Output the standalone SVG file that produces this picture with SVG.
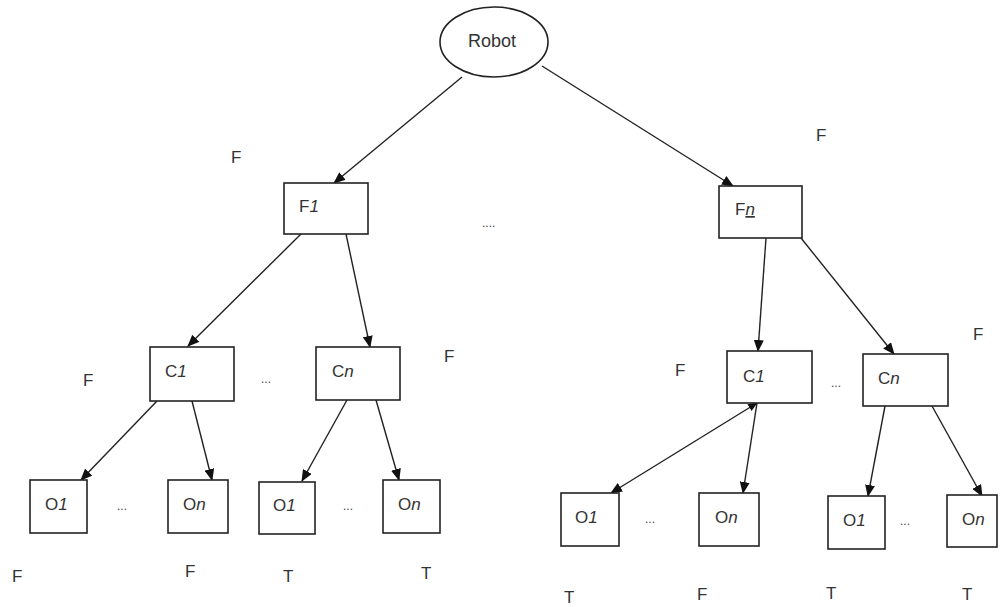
<svg xmlns="http://www.w3.org/2000/svg" width="1002" height="607" viewBox="0 0 1002 607">
  <style>
    .box { fill: #ffffff; stroke: #222222; stroke-width: 1.6; }
    .lbl { font-family: "Liberation Sans", Arial, sans-serif; font-size: 17px; fill: #333333; }
    .dots { font-family: "Liberation Sans", Arial, sans-serif; font-size: 12px; fill: #444444; }
    .it { font-style: italic; }
    .edge { stroke: #222222; stroke-width: 1.4; fill: none; marker-end: url(#head); }
  </style>
  <defs>
    <marker id="head" viewBox="0 0 12 10" refX="11" refY="5" markerWidth="12" markerHeight="10" markerUnits="userSpaceOnUse" orient="auto">
      <path d="M0,0 L12,5 L0,10 z" fill="#111111"/>
    </marker>
    <marker id="tail" viewBox="0 0 12 10" refX="11" refY="5" markerWidth="10" markerHeight="8" markerUnits="userSpaceOnUse" orient="auto-start-reverse">
      <path d="M0,0 L12,5 L0,10 z" fill="#111111"/>
    </marker>
  </defs>
  <rect x="0" y="0" width="1002" height="607" fill="#ffffff"/>

  <!-- connectors -->
  <g id="edges">
    <line class="edge" x1="462" y1="77" x2="334" y2="183"/>
    <line class="edge" x1="542" y1="66" x2="733" y2="186"/>
    <line class="edge" x1="301" y1="234" x2="188" y2="346"/>
    <line class="edge" x1="346" y1="234" x2="370" y2="347"/>
    <line class="edge" x1="766" y1="238" x2="758" y2="351"/>
    <line class="edge" x1="801" y1="238" x2="894" y2="354"/>
    <line class="edge" x1="157" y1="401" x2="81" y2="480"/>
    <line class="edge" x1="192" y1="401" x2="212" y2="480"/>
    <line class="edge" x1="347" y1="400" x2="302" y2="481"/>
    <line class="edge" x1="376" y1="400" x2="399" y2="480"/>
    <line class="edge" x1="757" y1="403" x2="611" y2="493" style="marker-start:url(#tail)"/>
    <line class="edge" x1="757" y1="403" x2="743" y2="493"/>
    <line class="edge" x1="885" y1="406" x2="868" y2="496"/>
    <line class="edge" x1="932" y1="406" x2="982" y2="496"/>
  </g>

  <!-- root -->
  <g id="robot">
    <ellipse cx="494" cy="42" rx="54" ry="35" fill="#ffffff" stroke="#222222" stroke-width="1.6"/>
    <text class="lbl" x="492" y="47" text-anchor="middle" style="font-size:18px">Robot</text>
  </g>

  <!-- features -->
  <g id="f1">
    <rect class="box" x="284" y="183" width="84" height="51"/>
    <text class="lbl" x="299" y="212">F<tspan class="it">1</tspan></text>
  </g>
  <g id="fn">
    <rect class="box" x="719" y="186" width="83" height="52"/>
    <text class="lbl" x="735" y="215">F<tspan class="it" text-decoration="underline">n</tspan></text>
  </g>

  <!-- components -->
  <g id="c1-left">
    <rect class="box" x="150" y="347" width="84" height="54"/>
    <text class="lbl" x="165" y="377">C<tspan class="it">1</tspan></text>
  </g>
  <g id="cn-left">
    <rect class="box" x="316" y="347" width="84" height="53"/>
    <text class="lbl" x="332" y="377">C<tspan class="it">n</tspan></text>
  </g>
  <g id="c1-right">
    <rect class="box" x="727" y="351" width="85" height="52"/>
    <text class="lbl" x="743" y="382">C<tspan class="it">1</tspan></text>
  </g>
  <g id="cn-right">
    <rect class="box" x="863" y="354" width="85" height="52"/>
    <text class="lbl" x="878" y="384">C<tspan class="it">n</tspan></text>
  </g>

  <!-- objects -->
  <g id="o1-a">
    <rect class="box" x="30" y="480" width="57" height="53"/>
    <text class="lbl" x="45" y="510">O<tspan class="it">1</tspan></text>
  </g>
  <g id="on-a">
    <rect class="box" x="168" y="480" width="60" height="53"/>
    <text class="lbl" x="183" y="510">O<tspan class="it">n</tspan></text>
  </g>
  <g id="o1-b">
    <rect class="box" x="259" y="482" width="56" height="52"/>
    <text class="lbl" x="273" y="511">O<tspan class="it">1</tspan></text>
  </g>
  <g id="on-b">
    <rect class="box" x="383" y="480" width="57" height="53"/>
    <text class="lbl" x="398" y="510">O<tspan class="it">n</tspan></text>
  </g>
  <g id="o1-c">
    <rect class="box" x="561" y="493" width="58" height="53"/>
    <text class="lbl" x="575" y="523">O<tspan class="it">1</tspan></text>
  </g>
  <g id="on-c">
    <rect class="box" x="699" y="493" width="60" height="53"/>
    <text class="lbl" x="715" y="523">O<tspan class="it">n</tspan></text>
  </g>
  <g id="o1-d">
    <rect class="box" x="828" y="496" width="57" height="53"/>
    <text class="lbl" x="843" y="526">O<tspan class="it">1</tspan></text>
  </g>
  <g id="on-d">
    <rect class="box" x="947" y="495" width="50" height="52"/>
    <text class="lbl" x="962" y="525">O<tspan class="it">n</tspan></text>
  </g>

  <!-- ellipses between siblings -->
  <g id="gaps">
    <text class="dots" x="482" y="227">....</text>
    <text class="dots" x="261" y="383">...</text>
    <text class="dots" x="831" y="387">...</text>
    <text class="dots" x="117" y="510">...</text>
    <text class="dots" x="343" y="510">...</text>
    <text class="dots" x="645" y="523">...</text>
    <text class="dots" x="900" y="525">...</text>
  </g>

  <!-- truth values -->
  <g id="values">
    <text class="lbl" x="231" y="163">F</text>
    <text class="lbl" x="816" y="141">F</text>
    <text class="lbl" x="83" y="386">F</text>
    <text class="lbl" x="444" y="362">F</text>
    <text class="lbl" x="675" y="376">F</text>
    <text class="lbl" x="973" y="340">F</text>
    <text class="lbl" x="12" y="582">F</text>
    <text class="lbl" x="185" y="577">F</text>
    <text class="lbl" x="283" y="582">T</text>
    <text class="lbl" x="421" y="579">T</text>
    <text class="lbl" x="564" y="603">T</text>
    <text class="lbl" x="697" y="600">F</text>
    <text class="lbl" x="826" y="599">T</text>
    <text class="lbl" x="962" y="600">T</text>
  </g>
</svg>
